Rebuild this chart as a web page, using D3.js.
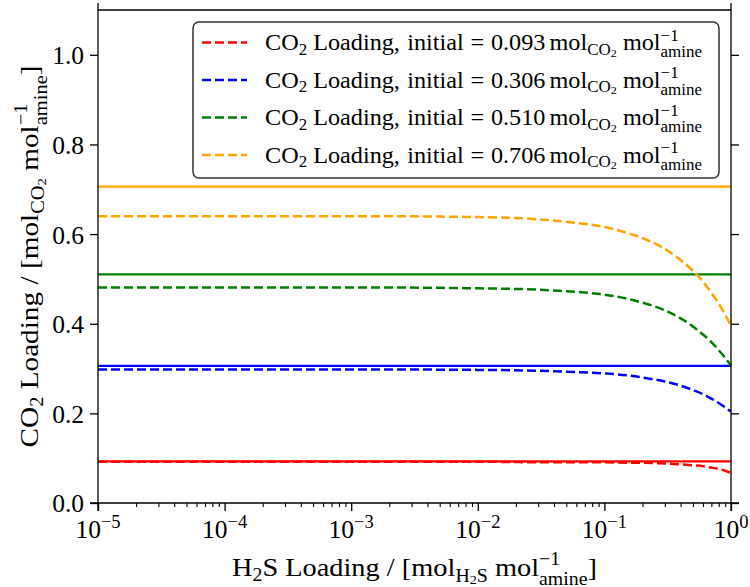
<!DOCTYPE html>
<html><head><meta charset="utf-8">
<script src="https://cdn.jsdelivr.net/npm/d3@7"></script>
<style>
body{margin:0;background:#fff;}
text{font-family:"Liberation Serif","DejaVu Serif",serif;fill:#000;}
</style></head>
<body><svg id="c" width="750" height="587"></svg>
<script>
// ---------- data ----------
const h2sLoading = [1e-5, 1e-4, 1e-3, 1e-2, 0.03, 0.06, 0.1, 0.15, 0.2, 0.3, 0.4, 0.5, 0.6, 0.7, 0.8, 0.9, 1.0];
const initialLabels = ["0.093", "0.306", "0.510", "0.706"];
const initialLoadings = [0.093, 0.306, 0.510, 0.706];
const co2Red    = [0.092, 0.092, 0.092, 0.092, 0.091, 0.091, 0.091, 0.090, 0.090, 0.088, 0.086, 0.084, 0.082, 0.079, 0.076, 0.072, 0.067];
const co2Blue   = [0.298, 0.298, 0.298, 0.297, 0.295, 0.292, 0.289, 0.285, 0.280, 0.271, 0.262, 0.252, 0.243, 0.233, 0.223, 0.213, 0.204];
const co2Green  = [0.481, 0.481, 0.481, 0.479, 0.476, 0.471, 0.465, 0.456, 0.447, 0.430, 0.412, 0.394, 0.376, 0.359, 0.341, 0.324, 0.306];
const co2Orange = [0.640, 0.640, 0.640, 0.638, 0.633, 0.625, 0.616, 0.603, 0.591, 0.567, 0.542, 0.518, 0.494, 0.469, 0.445, 0.420, 0.396];
const seriesColors = ["#ff0000", "#0000ff", "#008000", "#ffa500"];
const yTicks = [0.0, 0.2, 0.4, 0.6, 0.8, 1.0];
const yTickLabels = ["0.0", "0.2", "0.4", "0.6", "0.8", "1.0"];
const xTicks = [1e-5, 1e-4, 1e-3, 1e-2, 1e-1, 1];
const xTickExps = ["−5", "−4", "−3", "−2", "−1", "0"];

const dashed = [co2Red, co2Blue, co2Green, co2Orange];

// ---------- layout ----------
const svg = d3.select("#c");
const L = 98, R = 731, T = 10, B = 503;
const x = d3.scaleLog().domain([1e-5, 1]).range([L, R]);
const y = d3.scaleLinear().domain([0, 1.1]).range([B, T]);

// rich text helper: lays out segments, returns group and natural width
function rich(parent, segs, size) {
  const outer = parent.append("g");
  const g = outer.append("g");
  let cx = 0;
  for (const s of segs) {
    if (s.gap !== undefined) { cx += s.gap * size; continue; }
    if (s.stack) {
      const a = g.append("text").attr("x", cx).attr("y", -s.up * size)
        .style("font-size", (0.7 * size) + "px").text(s.stack[0]);
      const b = g.append("text").attr("x", cx).attr("y", s.down * size)
        .style("font-size", (0.7 * size) + "px").text(s.stack[1]);
      cx += Math.max(a.node().getComputedTextLength(), b.node().getComputedTextLength());
      continue;
    }
    const sc = s.sc || 1;
    const t = g.append("text").attr("x", cx).attr("y", (s.dy || 0) * size)
      .style("font-size", (sc * size) + "px").text(s.t);
    cx += t.node().getComputedTextLength();
  }
  return {outer, g, w: cx};
}
function fit(r, target) { r.g.attr("transform", `scale(${target / r.w},1)`); r.w = target; }
const supSub = {stack: ["−1", "amine"], up: 0.42, down: 0.33};

// ---------- lines ----------
const line = d3.line().x(d => x(d[0])).y(d => y(d[1])).curve(d3.curveMonotoneX);
initialLoadings.forEach((v, i) => {
  svg.append("path").attr("d", line([[1e-5, v], [1, v]]))
    .attr("fill", "none").attr("stroke", seriesColors[i]).attr("stroke-width", 2.3);
});
dashed.forEach((arr, i) => {
  svg.append("path").attr("d", line(h2sLoading.map((h, j) => [h, arr[j]])))
    .attr("fill", "none").attr("stroke", seriesColors[i]).attr("stroke-width", 2.5)
    .attr("stroke-dasharray", "9,4");
});

// ---------- axes ----------
const axG = svg.append("g");
// left ticks
const la = axG.append("g").attr("transform", `translate(${L},0)`)
  .call(d3.axisLeft(y).tickValues(yTicks).tickSize(8).tickFormat(""));
la.select(".domain").remove();
la.selectAll(".tick line").attr("stroke", "#000").attr("stroke-width", 1.3);
// left tick labels
svg.append("g").selectAll("text").data(yTicks).join("text")
  .attr("x", L - 14).attr("y", d => y(d)).attr("dy", "0.37em")
  .attr("text-anchor", "end").style("font-size", "25.5px")
  .text((d, i) => yTickLabels[i]);
// right ticks
const ra = axG.append("g").attr("transform", `translate(${R},0)`)
  .call(d3.axisRight(y).tickValues(yTicks).tickSize(8).tickFormat(""));
ra.select(".domain").remove();
ra.selectAll(".tick line").attr("stroke", "#000").attr("stroke-width", 1.3);
// bottom minor ticks
const minor = x.ticks().filter(v => !xTicks.some(t => Math.abs(t - v) / v < 1e-6));
const bm = axG.append("g").attr("transform", `translate(0,${B})`)
  .call(d3.axisBottom(x).tickValues(minor).tickSize(4).tickFormat(""));
bm.select(".domain").remove();
bm.selectAll(".tick line").attr("stroke", "#000").attr("stroke-width", 1.1);
// bottom major ticks
const ba = axG.append("g").attr("transform", `translate(0,${B})`)
  .call(d3.axisBottom(x).tickValues(xTicks).tickSize(8).tickFormat(""));
ba.select(".domain").remove();
ba.selectAll(".tick line").attr("stroke", "#000").attr("stroke-width", 1.3);
// bottom tick labels
svg.append("g").selectAll("text").data(xTicks).join("text")
  .attr("x", d => x(d)).attr("y", B + 35).attr("text-anchor", "middle")
  .style("font-size", "25.5px")
  .each(function(d, i) {
    const t = d3.select(this);
    t.append("tspan").text("10");
    t.append("tspan").attr("dy", "-0.52em").style("font-size", "18.5px").text(xTickExps[i]);
  });
// spines (extended past corners)
const sp = (x1, y1, x2, y2) => axG.append("line").attr("x1", x1).attr("y1", y1).attr("x2", x2).attr("y2", y2)
  .attr("stroke", "#000").attr("stroke-width", 1.3);
sp(L - 8, B, R + 8, B);
sp(L, 3, L, B + 8);
sp(R, 3, R, B + 8);
sp(L, T, R, T);

// ---------- axis labels ----------
const xl = rich(svg, [
  {t: "H"}, {t: "2", sc: 0.7, dy: 0.2}, {t: "S"}, {gap: 0.25}, {t: "Loading"}, {gap: 0.25}, {t: "/"}, {gap: 0.25},
  {t: "[mol"}, {t: "H", sc: 0.7, dy: 0.22}, {t: "2", sc: 0.5, dy: 0.3}, {t: "S", sc: 0.7, dy: 0.22}, {gap: 0.25},
  {t: "mol"}, supSub, {t: "]"}
], 26);
fit(xl, 365);
xl.outer.attr("transform", `translate(${(L + R) / 2 - xl.w / 2},576)`);

const yl = rich(svg, [
  {t: "CO"}, {t: "2", sc: 0.7, dy: 0.2}, {gap: 0.25}, {t: "Loading"}, {gap: 0.25}, {t: "/"}, {gap: 0.25},
  {t: "[mol"}, {t: "CO", sc: 0.7, dy: 0.22}, {t: "2", sc: 0.5, dy: 0.3}, {gap: 0.25},
  {t: "mol"}, supSub, {t: "]"}
], 26);
fit(yl, 382);
yl.outer.attr("transform", `translate(38,${(T + B) / 2 + yl.w / 2}) rotate(-90)`);

// ---------- legend ----------
const lg = svg.append("g");
lg.append("rect").attr("x", 193).attr("y", 22).attr("width", 526).attr("height", 156)
  .attr("rx", 6).attr("fill", "#fff").attr("fill-opacity", 0.85).attr("stroke", "#333").attr("stroke-width", 1.5);
initialLabels.forEach((lab, i) => {
  const by = 50 + i * 37.5;
  lg.append("line").attr("x1", 202).attr("x2", 247).attr("y1", by - 7.5).attr("y2", by - 7.5)
    .attr("stroke", seriesColors[i]).attr("stroke-width", 2.5).attr("stroke-dasharray", "9,4");
  const r = rich(lg, [
    {t: "CO"}, {t: "2", sc: 0.7, dy: 0.2}, {gap: 0.25}, {t: "Loading,"}, {gap: 0.3}, {t: "initial"}, {gap: 0.28},
    {t: "="}, {gap: 0.28}, {t: lab}, {gap: 0.17}, {t: "mol"}, {t: "CO", sc: 0.7, dy: 0.22}, {t: "2", sc: 0.5, dy: 0.3},
    {gap: 0.25}, {t: "mol"}, supSub
  ], 22.5);
  fit(r, 437);
  r.outer.attr("transform", `translate(265,${by})`);
});
</script></body></html>
